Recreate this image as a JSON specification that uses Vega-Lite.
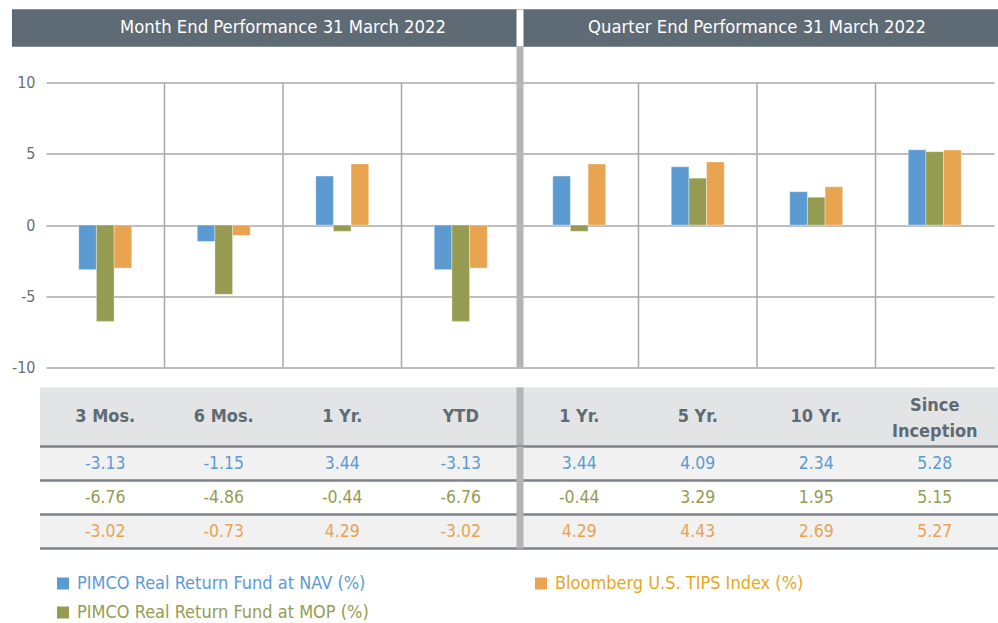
{
  "$schema": "https://vega.github.io/schema/vega-lite/v6.json",
  "padding": {"left": 11, "top": 5.5, "right": 0, "bottom": 0},
  "spacing": 0,
  "bounds": "flush",
  "config": {
    "view": {"stroke": null},
    "font": "DejaVu Sans Condensed, Liberation Sans, sans-serif",
    "text": {"font": "DejaVu Sans Condensed, Liberation Sans, sans-serif"},
    "axis": {"labelFont": "DejaVu Sans Condensed, Liberation Sans, sans-serif"},
    "legend": {"labelFont": "DejaVu Sans Condensed, Liberation Sans, sans-serif"},
    "locale": {"number": {"decimal": ".", "thousands": ",", "grouping": [3], "currency": ["$", ""], "minus": "-"}}
  },
  "resolve": {"scale": {"x": "independent", "y": "independent", "fill": "independent"}},
  "datasets": {
    "sections": [
      {"section": "Month End Performance 31 March 2022"},
      {"section": "Quarter End Performance 31 March 2022"}
    ],
    "cats": [
      {"key": "M 3 Mos.", "label": "3 Mos."},
      {"key": "M 6 Mos.", "label": "6 Mos."},
      {"key": "M 1 Yr.", "label": "1 Yr."},
      {"key": "M YTD", "label": "YTD"},
      {"key": "Q 1 Yr.", "label": "1 Yr."},
      {"key": "Q 5 Yr.", "label": "5 Yr."},
      {"key": "Q 10 Yr.", "label": "10 Yr."},
      {"key": "Q Since Inception", "label": "Since\nInception"}
    ],
    "perf": [
      {"key": "M 3 Mos.", "series": "PIMCO Real Return Fund at NAV (%)", "value": -3.13},
      {"key": "M 3 Mos.", "series": "PIMCO Real Return Fund at MOP (%)", "value": -6.76},
      {"key": "M 3 Mos.", "series": "Bloomberg U.S. TIPS Index (%)", "value": -3.02},
      {"key": "M 6 Mos.", "series": "PIMCO Real Return Fund at NAV (%)", "value": -1.15},
      {"key": "M 6 Mos.", "series": "PIMCO Real Return Fund at MOP (%)", "value": -4.86},
      {"key": "M 6 Mos.", "series": "Bloomberg U.S. TIPS Index (%)", "value": -0.73},
      {"key": "M 1 Yr.", "series": "PIMCO Real Return Fund at NAV (%)", "value": 3.44},
      {"key": "M 1 Yr.", "series": "PIMCO Real Return Fund at MOP (%)", "value": -0.44},
      {"key": "M 1 Yr.", "series": "Bloomberg U.S. TIPS Index (%)", "value": 4.29},
      {"key": "M YTD", "series": "PIMCO Real Return Fund at NAV (%)", "value": -3.13},
      {"key": "M YTD", "series": "PIMCO Real Return Fund at MOP (%)", "value": -6.76},
      {"key": "M YTD", "series": "Bloomberg U.S. TIPS Index (%)", "value": -3.02},
      {"key": "Q 1 Yr.", "series": "PIMCO Real Return Fund at NAV (%)", "value": 3.44},
      {"key": "Q 1 Yr.", "series": "PIMCO Real Return Fund at MOP (%)", "value": -0.44},
      {"key": "Q 1 Yr.", "series": "Bloomberg U.S. TIPS Index (%)", "value": 4.29},
      {"key": "Q 5 Yr.", "series": "PIMCO Real Return Fund at NAV (%)", "value": 4.09},
      {"key": "Q 5 Yr.", "series": "PIMCO Real Return Fund at MOP (%)", "value": 3.29},
      {"key": "Q 5 Yr.", "series": "Bloomberg U.S. TIPS Index (%)", "value": 4.43},
      {"key": "Q 10 Yr.", "series": "PIMCO Real Return Fund at NAV (%)", "value": 2.34},
      {"key": "Q 10 Yr.", "series": "PIMCO Real Return Fund at MOP (%)", "value": 1.95},
      {"key": "Q 10 Yr.", "series": "Bloomberg U.S. TIPS Index (%)", "value": 2.69},
      {"key": "Q Since Inception", "series": "PIMCO Real Return Fund at NAV (%)", "value": 5.28},
      {"key": "Q Since Inception", "series": "PIMCO Real Return Fund at MOP (%)", "value": 5.15},
      {"key": "Q Since Inception", "series": "Bloomberg U.S. TIPS Index (%)", "value": 5.27}
    ]
  },
  "vconcat": [
    {
      "width": 948,
      "height": 37,
      "data": {"name": "sections"},
      "resolve": {"scale": {"x": "independent"}},
      "layer": [
        {
          "mark": {"type": "rect", "color": "#5f6b74"},
          "encoding": {
            "x": {"datum": -0.287, "type": "quantitative", "axis": null, "scale": {"domain": [0, 8], "nice": false, "zero": false}},
            "x2": {"datum": 8.042}
          }
        },
        {
          "transform": [{"filter": "datum.section == 'Quarter End Performance 31 March 2022'"}],
          "mark": {"type": "rule", "color": "#ffffff", "strokeWidth": 7},
          "encoding": {
            "x": {"field": "section", "type": "nominal", "bandPosition": 0, "axis": null,
              "scale": {"domain": ["Month End Performance 31 March 2022", "Quarter End Performance 31 March 2022"], "paddingInner": 0, "paddingOuter": 0}}
          }
        },
        {
          "mark": {"type": "text", "color": "#ffffff", "fontSize": 18.3},
          "encoding": {
            "x": {"field": "section", "type": "nominal", "axis": null,
              "scale": {"domain": ["Month End Performance 31 March 2022", "Quarter End Performance 31 March 2022"], "paddingInner": 0, "paddingOuter": 0}},
            "text": {"field": "section"}
          }
        }
      ]
    },
    {
      "width": 948,
      "height": 341,
      "resolve": {"scale": {"x": "independent"}},
      "layer": [
        {
          "data": {"name": "cats"},
          "transform": [{"filter": "datum.key != 'M 3 Mos.' && datum.key != 'Q 1 Yr.'"}],
          "mark": {"type": "rule", "color": "#a8a8a8", "strokeWidth": 1.5},
          "encoding": {
            "x": {"field": "key", "type": "nominal", "bandPosition": 0, "axis": null,
              "scale": {"domain": ["M 3 Mos.", "M 6 Mos.", "M 1 Yr.", "M YTD", "Q 1 Yr.", "Q 5 Yr.", "Q 10 Yr.", "Q Since Inception"], "paddingInner": 0, "paddingOuter": 0}},
            "y": {"datum": 10, "type": "quantitative",
              "scale": {"domain": [-11.4, 12.53], "nice": false, "zero": false},
              "axis": {"title": null, "values": [-10, -5, 0, 5, 10], "grid": true, "gridColor": "#a8a8a8", "gridWidth": 1.5,
                "domain": false, "ticks": false, "tickSize": 0, "labelPadding": 11, "labelFontSize": 16, "labelColor": "#6b6e72"}},
            "y2": {"datum": -10}
          }
        },
        {
          "data": {"name": "perf"},
          "mark": {"type": "bar", "stroke": "#ffffff", "strokeOpacity": 0.35, "strokeWidth": 1},
          "encoding": {
            "x": {"field": "key", "type": "nominal", "axis": null,
              "scale": {"domain": ["M 3 Mos.", "M 6 Mos.", "M 1 Yr.", "M YTD", "Q 1 Yr.", "Q 5 Yr.", "Q 10 Yr.", "Q Since Inception"], "paddingInner": 0.553, "paddingOuter": 0.2765}},
            "xOffset": {"field": "series", "type": "nominal",
              "scale": {"domain": ["PIMCO Real Return Fund at NAV (%)", "PIMCO Real Return Fund at MOP (%)", "Bloomberg U.S. TIPS Index (%)"], "paddingInner": 0, "paddingOuter": 0}},
            "y": {"field": "value", "type": "quantitative"},
            "color": {"field": "series", "type": "nominal",
              "scale": {"domain": ["PIMCO Real Return Fund at NAV (%)", "PIMCO Real Return Fund at MOP (%)", "Bloomberg U.S. TIPS Index (%)"], "range": ["#5b9bd2", "#959c52", "#e8a451"]},
              "legend": {"orient": "none", "legendX": 8, "legendY": 565, "columns": 2, "title": null,
                "symbolType": "square", "symbolSize": 144, "symbolStrokeWidth": 0, "labelFontSize": 18, "labelOffset": 5,
                "columnPadding": 163, "rowPadding": 11, "labelLimit": 500,
                "symbolFillColor": {"expr": "datum.value == 'Bloomberg U.S. TIPS Index (%)' ? '#e6a71e' : scale('color', datum.value)"},
                "labelColor": {"expr": "datum.value == 'Bloomberg U.S. TIPS Index (%)' ? '#e6a71e' : scale('color', datum.value)"}}}
          }
        },
        {
          "data": {"name": "cats"},
          "transform": [{"filter": "datum.key == 'Q 1 Yr.'"}],
          "mark": {"type": "rule", "color": "#b5b5b5", "strokeWidth": 7},
          "encoding": {
            "x": {"field": "key", "type": "nominal", "bandPosition": 0, "axis": null,
              "scale": {"domain": ["M 3 Mos.", "M 6 Mos.", "M 1 Yr.", "M YTD", "Q 1 Yr.", "Q 5 Yr.", "Q 10 Yr.", "Q Since Inception"], "paddingInner": 0, "paddingOuter": 0}},
            "y": {"datum": 12.53, "type": "quantitative"},
            "y2": {"datum": -10}
          }
        }
      ]
    },
    {
      "width": 948,
      "height": 59,
      "data": {"name": "cats"},
      "resolve": {"scale": {"x": "independent"}},
      "layer": [
        {
          "transform": [{"filter": "datum.key == 'M 3 Mos.'"}],
          "mark": {"type": "rect", "color": "#e3e4e6"},
          "encoding": {
            "x": {"datum": -0.0506, "type": "quantitative", "axis": null, "scale": {"domain": [0, 8], "nice": false, "zero": false}},
            "x2": {"datum": 8.042}
          }
        },
        {
          "transform": [{"filter": "datum.key != 'Q Since Inception'"}],
          "mark": {"type": "text", "color": "#5f6b74", "fontSize": 18, "fontWeight": "bold"},
          "encoding": {
            "x": {"field": "key", "type": "nominal", "axis": null,
              "scale": {"domain": ["M 3 Mos.", "M 6 Mos.", "M 1 Yr.", "M YTD", "Q 1 Yr.", "Q 5 Yr.", "Q 10 Yr.", "Q Since Inception"], "paddingInner": 0, "paddingOuter": 0}},
            "text": {"field": "label"}
          }
        },
        {
          "transform": [{"filter": "datum.key == 'Q Since Inception'"}],
          "mark": {"type": "text", "color": "#5f6b74", "fontSize": 18, "fontWeight": "bold", "lineBreak": "\n", "lineHeight": 26, "dy": -11},
          "encoding": {
            "x": {"field": "key", "type": "nominal", "axis": null,
              "scale": {"domain": ["M 3 Mos.", "M 6 Mos.", "M 1 Yr.", "M YTD", "Q 1 Yr.", "Q 5 Yr.", "Q 10 Yr.", "Q Since Inception"], "paddingInner": 0, "paddingOuter": 0}},
            "text": {"field": "label"}
          }
        },
        {
          "transform": [{"filter": "datum.key == 'Q 1 Yr.'"}],
          "mark": {"type": "rule", "color": "#b5b5b5", "strokeWidth": 7},
          "encoding": {
            "x": {"field": "key", "type": "nominal", "bandPosition": 0, "axis": null,
              "scale": {"domain": ["M 3 Mos.", "M 6 Mos.", "M 1 Yr.", "M YTD", "Q 1 Yr.", "Q 5 Yr.", "Q 10 Yr.", "Q Since Inception"], "paddingInner": 0, "paddingOuter": 0}}
          }
        }
      ]
    },
    {
      "width": 948,
      "height": 102,
      "data": {"name": "perf"},
      "resolve": {"scale": {"x": "independent"}},
      "layer": [
        {
          "transform": [{"aggregate": [{"op": "count", "as": "n"}], "groupby": ["series"]}],
          "mark": {"type": "rect"},
          "encoding": {
            "x": {"datum": -0.0506, "type": "quantitative", "axis": null, "scale": {"domain": [0, 8], "nice": false, "zero": false}},
            "x2": {"datum": 8.042},
            "y": {"field": "series", "type": "nominal", "axis": null,
              "scale": {"domain": ["PIMCO Real Return Fund at NAV (%)", "PIMCO Real Return Fund at MOP (%)", "Bloomberg U.S. TIPS Index (%)"], "paddingInner": 0, "paddingOuter": 0}},
            "fill": {"field": "series", "type": "nominal",
              "scale": {"domain": ["PIMCO Real Return Fund at NAV (%)", "PIMCO Real Return Fund at MOP (%)", "Bloomberg U.S. TIPS Index (%)"], "range": ["#f1f1f1", "#ffffff", "#f1f1f1"]},
              "legend": null}
          }
        },
        {
          "transform": [{"aggregate": [{"op": "count", "as": "n"}], "groupby": ["series"]}],
          "mark": {"type": "rule", "color": "#7d8389", "strokeWidth": 2.5},
          "encoding": {
            "x": {"datum": -0.0506, "type": "quantitative", "axis": null, "scale": {"domain": [0, 8], "nice": false, "zero": false}},
            "x2": {"datum": 8.042},
            "y": {"field": "series", "type": "nominal", "bandPosition": 0}
          }
        },
        {
          "transform": [{"aggregate": [{"op": "count", "as": "n"}], "groupby": ["series"]}, {"filter": "datum.series == 'Bloomberg U.S. TIPS Index (%)'"}],
          "mark": {"type": "rule", "color": "#7d8389", "strokeWidth": 2.5},
          "encoding": {
            "x": {"datum": -0.0506, "type": "quantitative", "axis": null, "scale": {"domain": [0, 8], "nice": false, "zero": false}},
            "x2": {"datum": 8.042},
            "y": {"field": "series", "type": "nominal", "bandPosition": 1}
          }
        },
        {
          "mark": {"type": "text", "fontSize": 17.5},
          "encoding": {
            "x": {"field": "key", "type": "nominal", "axis": null,
              "scale": {"domain": ["M 3 Mos.", "M 6 Mos.", "M 1 Yr.", "M YTD", "Q 1 Yr.", "Q 5 Yr.", "Q 10 Yr.", "Q Since Inception"], "paddingInner": 0, "paddingOuter": 0}},
            "y": {"field": "series", "type": "nominal"},
            "text": {"field": "value", "type": "quantitative", "format": ".2f"},
            "color": {"field": "series", "type": "nominal", "legend": null,
              "scale": {"domain": ["PIMCO Real Return Fund at NAV (%)", "PIMCO Real Return Fund at MOP (%)", "Bloomberg U.S. TIPS Index (%)"], "range": ["#5b9bd2", "#959c52", "#e8a451"]}}
          }
        },
        {
          "transform": [{"aggregate": [{"op": "count", "as": "n"}], "groupby": ["key"]}, {"filter": "datum.key == 'Q 1 Yr.'"}],
          "mark": {"type": "rule", "color": "#b5b5b5", "strokeWidth": 7},
          "encoding": {
            "x": {"field": "key", "type": "nominal", "bandPosition": 0, "axis": null,
              "scale": {"domain": ["M 3 Mos.", "M 6 Mos.", "M 1 Yr.", "M YTD", "Q 1 Yr.", "Q 5 Yr.", "Q 10 Yr.", "Q Since Inception"], "paddingInner": 0, "paddingOuter": 0}}
          }
        }
      ]
    }
  ]
}
